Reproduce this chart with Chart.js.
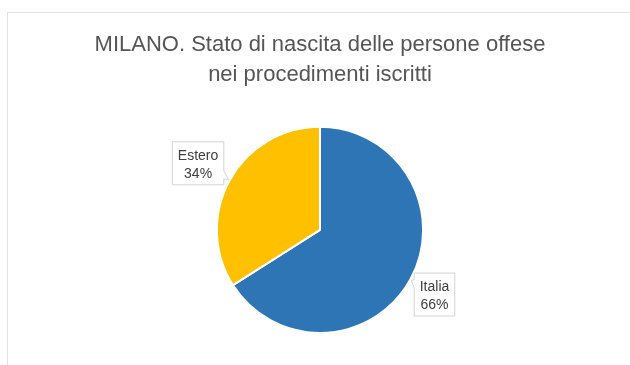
<!DOCTYPE html>
<html>
<head>
  <meta charset="utf-8">
  <title>Milano - stato di nascita</title>
  <script src="https://cdn.jsdelivr.net/npm/chart.js"></script>
  <style>
    body { margin: 0; background: #fff; }
    #wrap { position: relative; width: 630px; height: 365px; overflow: hidden; }
    #frame { position: absolute; left: 7px; top: 12px; width: 640px; height: 400px;
             border-left: 1px solid #e2e2e2; border-top: 1px solid #e2e2e2; }
    canvas { position: absolute; left: 0; top: 0; }
  </style>
</head>
<body>
<div id="wrap">
  <div id="frame"></div>
  <canvas id="pie" width="630" height="365"></canvas>
</div>

<script>
var labels = ['Italia', 'Estero'];
var values = [66, 34];
var colors = ['#2E75B6', '#FFC000'];

// callout boxes with name and percentage, pointing at each slice
var calloutPlugin = {
  id: 'callouts',
  afterDatasetsDraw: function(chart) {
    var ctx = chart.ctx;
    var meta = chart.getDatasetMeta(0);
    var total = values.reduce(function(a, b) { return a + b; }, 0);
    ctx.save();
    ctx.font = '14px "Liberation Sans", Arial, sans-serif';
    meta.data.forEach(function(arc, i) {
      var mid = (arc.startAngle + arc.endAngle) / 2;
      var px = arc.x + Math.cos(mid) * (arc.outerRadius + 1);
      var py = arc.y + Math.sin(mid) * (arc.outerRadius + 1);
      var l1 = labels[i], l2 = Math.round(values[i] / total * 100) + '%';
      var w = Math.max(ctx.measureText(l1).width, ctx.measureText(l2).width) + 11;
      var h = 43;
      var left = Math.cos(mid) < 0;
      var up = Math.sin(mid) < 0;
      var bx = left ? px - 5 - w : px + 3;
      var by = up ? py + 5 - h : py - 7;
      // pointer position on the box side
      var ty = up ? by + h - 14 : by + 7;
      ctx.beginPath();
      if (left) {
        ctx.moveTo(bx, by);
        ctx.lineTo(bx + w, by);
        ctx.lineTo(bx + w, ty);
        ctx.lineTo(px, py);
        ctx.lineTo(bx + w, ty + 8);
        ctx.lineTo(bx + w, by + h);
        ctx.lineTo(bx, by + h);
      } else {
        ctx.moveTo(bx + w, by);
        ctx.lineTo(bx, by);
        ctx.lineTo(bx, ty);
        ctx.lineTo(px, py);
        ctx.lineTo(bx, ty + 8);
        ctx.lineTo(bx, by + h);
        ctx.lineTo(bx + w, by + h);
      }
      ctx.closePath();
      ctx.fillStyle = '#fff';
      ctx.fill();
      ctx.strokeStyle = '#d4d4d4';
      ctx.lineWidth = 1;
      ctx.stroke();
      ctx.fillStyle = '#404040';
      ctx.textAlign = 'center';
      ctx.textBaseline = 'middle';
      ctx.fillText(l1, bx + w / 2, by + 14);
      ctx.fillText(l2, bx + w / 2, by + 32);
    });
    ctx.restore();
  }
};

new Chart(document.getElementById('pie'), {
  type: 'pie',
  data: {
    labels: labels,
    datasets: [{
      data: values,
      backgroundColor: colors,
      borderColor: '#fff',
      borderWidth: 2
    }]
  },
  options: {
    responsive: false,
    animation: false,
    layout: { padding: { left: 10, right: 0, top: 0, bottom: 31 } },
    plugins: {
      legend: { display: false },
      tooltip: { enabled: false },
      title: {
        display: true,
        text: ['MILANO. Stato di nascita delle persone offese', 'nei procedimenti iscritti'],
        color: '#555555',
        font: { family: '"Liberation Sans", Arial, sans-serif', size: 22, weight: 'normal', lineHeight: 1.36 },
        padding: { top: 30, bottom: 36 }
      }
    }
  },
  plugins: [calloutPlugin]
});
</script>
</body>
</html>
